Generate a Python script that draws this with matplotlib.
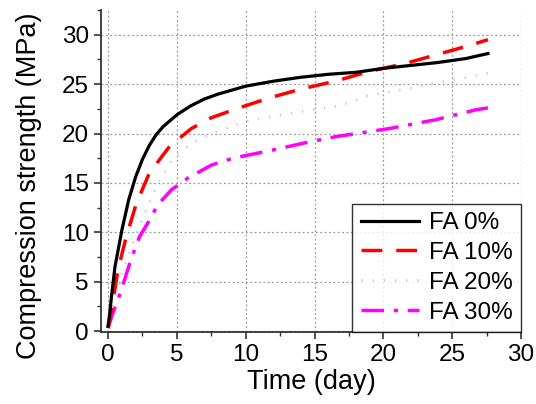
import matplotlib
matplotlib.use('Agg')
import matplotlib.pyplot as plt
from matplotlib.ticker import MultipleLocator

plt.rcParams['font.family'] = ['Liberation Sans', 'DejaVu Sans']

# Data
t_fa0 = [0, 0.12, 0.25, 0.5, 1.0, 1.5, 2.0, 2.5, 3.0, 3.5, 4.0, 4.5, 5.0, 6.0, 7.0,
         8.0, 9.0, 10.0, 12.0, 14.0, 16.0, 18.0, 20.0, 22.0, 24.0, 26.0, 27.6]
y_fa0 = [0.5, 1.8, 3.5, 6.5, 10.2, 13.3, 15.6, 17.4, 18.8, 19.9, 20.7, 21.3, 21.9, 22.8, 23.5,
         24.0, 24.4, 24.8, 25.3, 25.7, 26.0, 26.2, 26.6, 26.9, 27.2, 27.6, 28.1]

t_fa10 = [0, 0.36, 0.72, 1.33, 2.05, 3.0, 4.47, 6.04, 7.5, 9.3, 11.7, 14.0, 16.5,
          19.0, 21.6, 23.9, 26.2, 27.6]
y_fa10 = [0.3, 3.1, 6.2, 9.6, 12.9, 16.0, 18.7, 20.5, 21.6, 22.5, 23.6, 24.5, 25.3,
          26.3, 27.1, 28.0, 28.9, 29.5]

t_fa20 = [0, 0.5, 1.0, 1.7, 2.66, 3.62, 4.83, 6.28, 7.5, 10.0, 11.7, 13.9, 16.8,
          19.0, 22.0, 24.9, 27.6]
y_fa20 = [0.3, 3.5, 5.8, 8.5, 11.9, 15.0, 17.7, 19.2, 20.0, 21.2, 21.7, 22.2, 22.8,
          23.9, 24.6, 25.4, 26.1]

t_fa30 = [0, 0.34, 0.7, 1.2, 1.7, 2.3, 2.87, 3.62, 4.6, 5.8, 7.5, 9.05, 12.2, 14.1,
          16.6, 20.4, 23.8, 26.7, 27.6]
y_fa30 = [0.3, 1.8, 3.1, 5.2, 7.4, 9.6, 10.9, 12.8, 14.3, 15.5, 16.8, 17.5, 18.4, 19.0,
          19.7, 20.5, 21.4, 22.4, 22.6]

fig = plt.figure(figsize=(5.36, 4.04), dpi=100)
ax = fig.add_axes([0.188, 0.178, 0.784, 0.797])

ax.plot(t_fa0, y_fa0, color='black', lw=2.3, label='FA 0%', zorder=5)
ax.plot(t_fa10, y_fa10, color='red', lw=2.5, linestyle=(0, (6, 4)), label='FA 10%', zorder=4)
ax.plot(t_fa20, y_fa20, color='#c8c8ff', lw=2.0, linestyle=(0, (0.5, 3.5)), label='FA 20%', zorder=3)
ax.plot(t_fa30, y_fa30, color='magenta', lw=2.5, linestyle=(0, (6.5, 2.8, 1.2, 2.8)),
        label='FA 30%', zorder=3)

ax.set_xlim(-0.53, 30)
ax.set_ylim(-0.1, 32.5)
ax.xaxis.set_major_locator(MultipleLocator(5))
ax.xaxis.set_minor_locator(MultipleLocator(2.5))
ax.yaxis.set_major_locator(MultipleLocator(5))
ax.yaxis.set_minor_locator(MultipleLocator(2.5))
ax.grid(True, which='major', color='#999999', linestyle=(0, (1.5, 2)), lw=0.9)

for s in ['top', 'right']:
    ax.spines[s].set_visible(False)
for s in ['left', 'bottom']:
    ax.spines[s].set_linewidth(1.3)
    ax.spines[s].set_color('#333333')
ax.tick_params(which='major', direction='out', length=5, width=1.2, labelsize=17.5, color='#333333')
ax.tick_params(which='minor', direction='out', length=3, width=1.0, color='#333333')

ax.set_xlabel('Time (day)', fontsize=19.5, labelpad=2)
ax.set_ylabel('Compression strength (MPa)', fontsize=19.5)
ax.yaxis.set_label_coords(-0.14, 0.455)

leg = ax.legend(loc='lower right', fontsize=17.5, handlelength=2.4, frameon=True, fancybox=False,
                borderaxespad=0.0, borderpad=0.35, labelspacing=0.32, handletextpad=0.4)
leg.get_frame().set_edgecolor('black')
leg.get_frame().set_linewidth(1.0)

fig.savefig('out.png', dpi=100)
